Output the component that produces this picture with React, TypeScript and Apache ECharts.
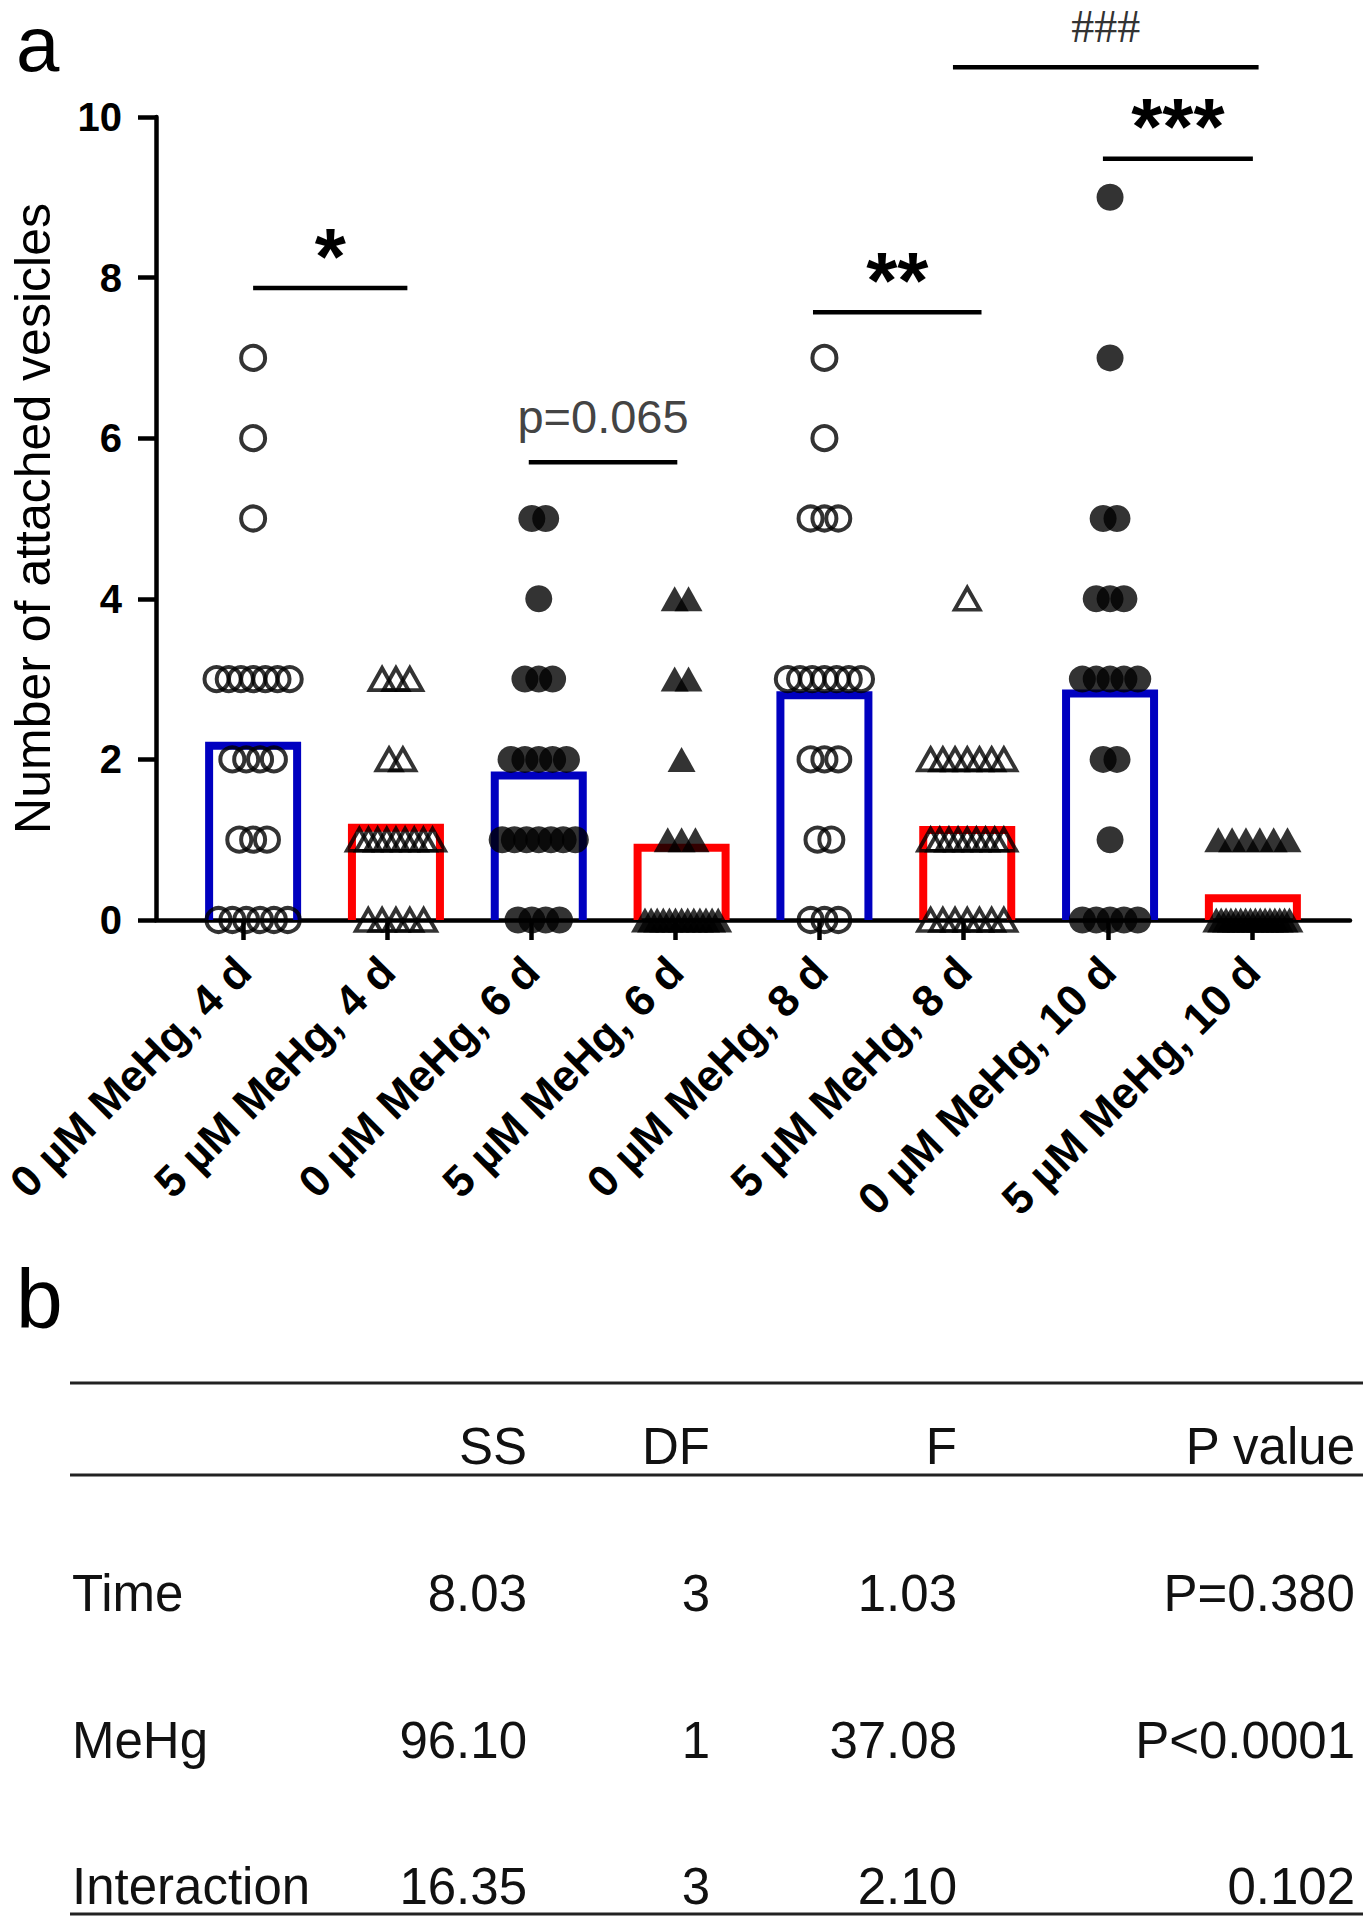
import React, { useEffect, useRef } from "react";
import * as echarts from "echarts";

// ---------- data ----------
const categories = [
  "0 µM MeHg, 4 d",
  "5 µM MeHg, 4 d",
  "0 µM MeHg, 6 d",
  "5 µM MeHg, 6 d",
  "0 µM MeHg, 8 d",
  "5 µM MeHg, 8 d",
  "0 µM MeHg, 10 d",
  "5 µM MeHg, 10 d",
];
const meanValues = [2.17, 1.15, 1.8, 0.9, 2.8, 1.12, 2.82, 0.27];

const ctrl4d = [7, 6, 5, 3, 3, 3, 3, 3, 3, 3, 2, 2, 2, 2, 1, 1, 1, 0, 0, 0, 0, 0, 0];
const mehg4d = [3, 3, 3, 2, 2, 1, 1, 1, 1, 1, 1, 1, 1, 1, 0, 0, 0, 0, 0];
const ctrl6d = [5, 5, 4, 3, 3, 3, 2, 2, 2, 2, 2, 1, 1, 1, 1, 1, 1, 1, 0, 0, 0, 0];
const mehg6d = [4, 4, 3, 3, 2, 1, 1, 1, 0, 0, 0, 0, 0, 0, 0, 0, 0, 0, 0, 0, 0];
const ctrl8d = [7, 6, 5, 5, 5, 3, 3, 3, 3, 3, 3, 3, 2, 2, 2, 1, 1, 0, 0, 0];
const mehg8d = [4, 2, 2, 2, 2, 2, 2, 2, 1, 1, 1, 1, 1, 1, 1, 1, 1, 0, 0, 0, 0, 0, 0, 0];
const ctrl10d = [9, 7, 5, 5, 4, 4, 4, 3, 3, 3, 3, 3, 2, 2, 1, 0, 0, 0, 0, 0];
const mehg10d = [1, 1, 1, 1, 1, 1, 0, 0, 0, 0, 0, 0, 0, 0, 0, 0, 0, 0, 0, 0, 0, 0];
const groupValues = [ctrl4d, mehg4d, ctrl6d, mehg6d, ctrl8d, mehg8d, ctrl10d, mehg10d];

const yTicks = [0, 2, 4, 6, 8, 10];

const sigLabels = ["*", "p=0.065", "**", "***", "###"];
const sigStart = [0, 1.93, 3.92, 5.95, 4.9];
const sigEnd = [1.08, 2.97, 5.1, 7.0, 7.04];
const sigLevel = [7.87, 5.7, 7.57, 9.48, 10.62];

const tableHeaders = ["SS", "DF", "F", "P value"];
const rowLabels = ["Time", "MeHg", "Interaction"];
const ssValues = ["8.03", "96.10", "16.35"];
const dfValues = ["3", "1", "3"];
const fValues = ["1.03", "37.08", "2.10"];
const pValues = ["P=0.380", "P<0.0001", "0.102"];

// ---------- layout / style ----------
const FONT = "'Liberation Sans', Arial, sans-serif";
const SERIF = "'Liberation Serif', 'Times New Roman', serif";
const X_MIN = -0.68;
const X_MAX = 7.68;
const GRID_LEFT = 143;
const GRID_TOP = 117;
const GRID_W = 1207;
const GRID_H = 803;
const UNIT_PX = GRID_W / (X_MAX - X_MIN);
const BAR_PX = 88;
const BLUE = "#0000C0";
const RED = "#FF0000";

type MarkerKind = "openCircle" | "openTriangle" | "filledCircle" | "filledTriangle";
const markerKinds: MarkerKind[] = [
  "openCircle", "openTriangle", "filledCircle", "filledTriangle",
  "openCircle", "openTriangle", "filledCircle", "filledTriangle",
];
const barColors = [BLUE, RED, BLUE, RED, BLUE, RED, BLUE, RED];

function spreadPoints(values: number[], idx: number): number[][] {
  const counts = new Map<number, number>();
  values.forEach((v) => counts.set(v, (counts.get(v) || 0) + 1));
  const seen = new Map<number, number>();
  return values.map((v) => {
    const n = counts.get(v) as number;
    const j = seen.get(v) || 0;
    seen.set(v, j + 1);
    const step = n > 1 ? Math.min(74 / (n - 1), 14) : 0;
    const offPx = (j - (n - 1) / 2) * step;
    return [idx + offPx / UNIT_PX, v];
  });
}

function markerStyle(kind: MarkerKind) {
  switch (kind) {
    case "openCircle":
      return { symbol: "circle", symbolSize: 24, itemStyle: { color: "rgba(0,0,0,0)", borderColor: "#000", borderWidth: 4 } };
    case "filledCircle":
      return { symbol: "circle", symbolSize: 27, itemStyle: { color: "#000", borderWidth: 0 } };
    case "openTriangle":
      return { symbol: "triangle", symbolSize: [25, 22], itemStyle: { color: "rgba(0,0,0,0)", borderColor: "#000", borderWidth: 3.8 } };
    default:
      return { symbol: "triangle", symbolSize: [28, 25], itemStyle: { color: "#000", borderWidth: 0 } };
  }
}

function sigTextStyle(label: string) {
  if (label.startsWith("p=")) return { fontSize: 47, fontWeight: "normal", fontFamily: FONT, fill: "#444", dy: -46 };
  if (label.startsWith("#")) return { fontSize: 46, fontWeight: "normal", fontFamily: SERIF, fill: "#333", dy: -41 };
  return { fontSize: 80, fontWeight: "bold", fontFamily: FONT, fill: "#000", dy: -32 };
}

function buildTable(): any[] {
  const els: any[] = [];
  const lineStyle = { stroke: "#222", lineWidth: 3 };
  [1383, 1475, 1914].forEach((y) =>
    els.push({ type: "line", shape: { x1: 70, y1: y, x2: 1363, y2: y }, style: lineStyle })
  );
  const colRight = [527, 710, 957, 1355];
  const fs = 51;
  const txt = (text: string, x: number, baseline: number, align: string) => ({
    type: "text",
    x,
    y: baseline - fs * 0.35,
    style: { text, fontSize: fs, fontFamily: FONT, fill: "#111", align, verticalAlign: "middle" },
  });
  tableHeaders.forEach((h, i) => els.push(txt(h, colRight[i], 1464, "right")));
  const baselines = [1611, 1758, 1904];
  rowLabels.forEach((r, i) => {
    els.push(txt(r, 72, baselines[i], "left"));
    els.push(txt(ssValues[i], colRight[0], baselines[i], "right"));
    els.push(txt(dfValues[i], colRight[1], baselines[i], "right"));
    els.push(txt(fValues[i], colRight[2], baselines[i], "right"));
    els.push(txt(pValues[i], colRight[3], baselines[i], "right"));
  });
  els.push({ type: "text", x: 16, y: 71 - 27, style: { text: "a", fontSize: 78, fontFamily: FONT, fill: "#000", align: "left", verticalAlign: "middle" } });
  els.push({ type: "text", x: 16, y: 1328 - 29, style: { text: "b", fontSize: 84, fontFamily: FONT, fill: "#000", align: "left", verticalAlign: "middle" } });
  return els;
}

export default function App() {
  const ref = useRef<HTMLDivElement>(null);
  useEffect(() => {
    if (!ref.current) return;
    const chart = echarts.init(ref.current, undefined, { renderer: "svg" });

    const scatterSeries = groupValues.map((vals, i) => {
      const m = markerStyle(markerKinds[i]);
      return {
        type: "scatter",
        xAxisIndex: 0,
        yAxisIndex: 0,
        z: 5,
        symbol: m.symbol,
        symbolSize: m.symbolSize,
        itemStyle: m.itemStyle,
        data: spreadPoints(vals, i),
        silent: true,
      };
    });

    const option: any = {
      animation: false,
      textStyle: { fontFamily: FONT },
      grid: [
        { left: GRID_LEFT, top: GRID_TOP, width: GRID_W, height: GRID_H },
        { left: GRID_LEFT + (0 - X_MIN) * UNIT_PX - UNIT_PX / 2, top: GRID_TOP, width: UNIT_PX * 8, height: GRID_H },
      ],
      xAxis: [
        {
          type: "value",
          gridIndex: 0,
          min: X_MIN,
          max: X_MAX,
          axisLine: { show: true, onZero: false, lineStyle: { color: "#000", width: 4.5 } },
          axisTick: { show: false },
          axisLabel: { show: false },
          splitLine: { show: false },
        },
        {
          type: "category",
          gridIndex: 1,
          data: categories,
          boundaryGap: true,
          axisLine: { show: false },
          axisTick: { show: true, alignWithLabel: true, length: 20, interval: 0, lineStyle: { color: "#000", width: 4.5 } },
          axisLabel: {
            interval: 0,
            rotate: 45,
            margin: 44,
            fontSize: 44,
            fontWeight: "bold",
            fontFamily: FONT,
            color: "#000",
          },
        },
      ],
      yAxis: [
        {
          type: "value",
          gridIndex: 0,
          min: yTicks[0],
          max: yTicks[yTicks.length - 1],
          interval: 2,
          name: "Number of attached vesicles",
          nameLocation: "middle",
          nameGap: 98,
          nameTextStyle: { fontSize: 50, fontFamily: FONT, color: "#000", fontWeight: "normal" },
          axisLine: { show: true, onZero: false, lineStyle: { color: "#000", width: 4.5 } },
          axisTick: { show: true, length: 18, lineStyle: { color: "#000", width: 4.5 } },
          axisLabel: { fontSize: 40, fontWeight: "bold", fontFamily: FONT, color: "#000", margin: 34 },
          splitLine: { show: false },
        },
        { type: "value", gridIndex: 1, show: false, min: 0, max: 10 },
      ],
      series: [
        {
          type: "custom",
          xAxisIndex: 0,
          yAxisIndex: 0,
          z: 3,
          clip: false,
          silent: true,
          data: meanValues.map((m, i) => [i, m]),
          renderItem: (params: any, api: any) => {
            const i = params.dataIndex;
            const base = api.coord([api.value(0), 0]);
            const top = api.coord([api.value(0), api.value(1)]);
            const h = BAR_PX / 2;
            return {
              type: "polyline",
              shape: {
                points: [
                  [base[0] - h, base[1]],
                  [base[0] - h, top[1]],
                  [base[0] + h, top[1]],
                  [base[0] + h, base[1]],
                ],
              },
              style: { stroke: barColors[i], lineWidth: 8, fill: "none", lineJoin: "miter" },
            };
          },
        },
        ...scatterSeries,
        {
          type: "custom",
          xAxisIndex: 0,
          yAxisIndex: 0,
          z: 6,
          clip: false,
          silent: true,
          data: sigStart.map((s, i) => [s, sigEnd[i], sigLevel[i]]),
          renderItem: (params: any, api: any) => {
            const i = params.dataIndex;
            const p1 = api.coord([api.value(0), api.value(2)]);
            const p2 = api.coord([api.value(1), api.value(2)]);
            const st = sigTextStyle(sigLabels[i]);
            return {
              type: "group",
              children: [
                {
                  type: "line",
                  shape: { x1: p1[0], y1: p1[1], x2: p2[0], y2: p2[1] },
                  style: { stroke: "#000", lineWidth: 4.5 },
                },
                {
                  type: "text",
                  x: (p1[0] + p2[0]) / 2,
                  y: p1[1] + st.dy,
                  style: {
                    text: sigLabels[i],
                    fontSize: st.fontSize,
                    fontWeight: st.fontWeight,
                    fontFamily: st.fontFamily,
                    fill: st.fill,
                    align: "center",
                    verticalAlign: "middle",
                  },
                },
              ],
            };
          },
        },
      ],
      graphic: buildTable(),
    };

    chart.setOption(option);
    return () => chart.dispose();
  }, []);

  return (
    <div
      ref={ref}
      style={{ position: "absolute", left: 0, top: 0, width: 1363, height: 1920, background: "#fff" }}
    />
  );
}
